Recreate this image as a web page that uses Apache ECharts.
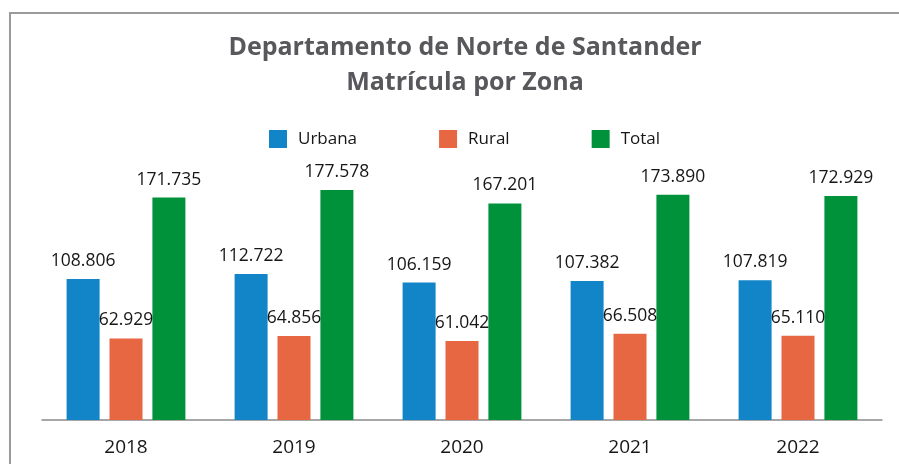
<!DOCTYPE html>
<html>
<head>
<meta charset="utf-8">
<script src="https://cdn.jsdelivr.net/npm/echarts@6/dist/echarts.min.js"></script>
<style>
  html, body { margin: 0; padding: 0; background: #fff; }
  #chart { width: 899px; height: 464px; }
</style>
</head>
<body>
<div id="chart"></div>
<script>
const years = ['2018', '2019', '2020', '2021', '2022']
const urbana = [108806, 112722, 106159, 107382, 107819]
const rural = [62929, 64856, 61042, 66508, 65110]
const total = [171735, 177578, 167201, 173890, 172929]

const font = '"Open Sans", sans-serif'

function fmt(v) {
  return String(v).replace(/\B(?=(\d{3})+(?!\d))/g, '.')
}

function bar(name, data, color) {
  return {
    name,
    type: 'bar',
    data,
    barWidth: 33,
    barGap: '30%',
    itemStyle: { color },
    label: {
      show: true,
      position: 'top',
      distance: 9,
      color: '#161616',
      fontFamily: font,
      fontSize: 17.5,
      formatter: (p) => fmt(p.value)
    }
  }
}

const chart = echarts.init(document.getElementById('chart'))
chart.setOption({
  animation: false,
  title: {
    text: 'Departamento de Norte de Santander\nMatrícula por Zona',
    left: 460,
    top: 25,
    textAlign: 'center',
    textStyle: {
      fontFamily: font,
      fontWeight: 'bold',
      fontSize: 25,
      lineHeight: 35,
      color: '#58585c'
    }
  },
  legend: {
    left: 264,
    top: 125,
    icon: 'rect',
    itemWidth: 18,
    itemHeight: 18,
    itemGap: 82,
    textStyle: { fontFamily: font, fontSize: 17, color: '#161616', padding: [0, 0, 0, 6] },
    data: ['Urbana', 'Rural', 'Total']
  },
  grid: { left: 42, right: 17, top: 161, bottom: 44 },
  xAxis: {
    type: 'category',
    data: years,
    axisTick: { show: false },
    axisLine: { lineStyle: { color: '#8a8a8a', width: 1.5 } },
    axisLabel: { color: '#161616', fontFamily: font, fontSize: 19, margin: 18 }
  },
  yAxis: {
    type: 'value',
    min: 0,
    max: 200000,
    show: false,
    splitLine: { show: false }
  },
  graphic: [{
    type: 'polyline',
    shape: { points: [[10, 464], [10, 13], [899, 13]] },
    style: { stroke: '#9a9a9a', lineWidth: 2, fill: null }
  }],
  series: [
    bar('Urbana', urbana, '#1185c7'),
    bar('Rural', rural, '#e86743'),
    bar('Total', total, '#00913b')
  ]
})
</script>
</body>
</html>
